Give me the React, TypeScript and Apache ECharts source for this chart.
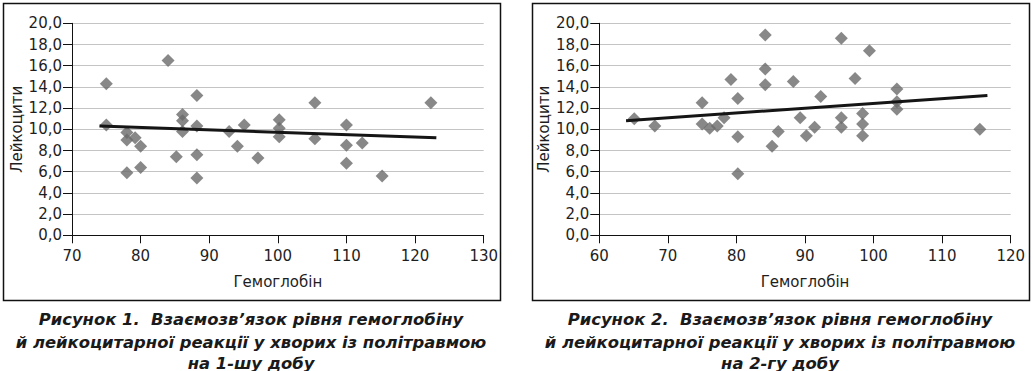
import React, { useEffect, useRef } from "react";
import * as echarts from "echarts";

// Chart 1 (day 1)
const hb1 = [75, 75, 84, 88.2, 88.2, 88.2, 88.2, 86.1, 86.1, 86.1, 78, 78, 78, 79.2, 80, 80, 85.2, 92.9, 95.1, 94.1, 97.1, 100.2, 100.2, 100.2, 105.4, 105.4, 110, 110, 110, 112.3, 115.2, 122.3];
const leu1 = [14.3, 10.4, 16.5, 13.2, 10.3, 7.6, 5.4, 11.4, 10.8, 9.8, 9.7, 9.0, 5.9, 9.2, 8.4, 6.4, 7.4, 9.8, 10.4, 8.4, 7.3, 10.9, 10.1, 9.3, 12.5, 9.1, 10.4, 8.5, 6.8, 8.7, 5.6, 12.5];
const trend1 = [[74, 10.3], [123.1, 9.2]];

// Chart 2 (day 2)
const hb2 = [65.1, 68.1, 75, 75, 76.1, 77.2, 78.2, 79.2, 80.2, 80.2, 80.2, 84.2, 84.2, 84.2, 85.2, 86.1, 88.3, 89.3, 90.2, 91.4, 92.3, 95.3, 95.3, 95.3, 97.3, 99.4, 98.4, 98.4, 98.4, 103.4, 103.4, 103.4, 115.5];
const leu2 = [11.0, 10.3, 12.5, 10.5, 10.1, 10.3, 11.1, 14.7, 12.9, 9.3, 5.8, 18.9, 15.7, 14.2, 8.4, 9.8, 14.5, 11.1, 9.4, 10.2, 13.1, 18.6, 11.1, 10.2, 14.8, 17.4, 11.5, 10.5, 9.4, 13.8, 12.6, 11.9, 10.0];
const trend2 = [[63.9, 10.8], [116.6, 13.2]];

const xRange1 = [70, 130];
const xRange2 = [60, 120];
const xName = "Гемоглобін";
const yName = "Лейкоцити";

const caption1 = [
  "Рисунок 1.  Взаємозв’язок рівня гемоглобіну",
  "й лейкоцитарної реакції у хворих із політравмою",
  "на 1-шу добу",
];
const caption2 = [
  "Рисунок 2.  Взаємозв’язок рівня гемоглобіну",
  "й лейкоцитарної реакції у хворих із політравмою",
  "на 2-гу добу",
];

const FONT = "'DejaVu Sans', 'Liberation Sans', Arial, sans-serif";
const TXT = "#1e1e1e";

function xAxisFor(gridIndex: number, range: number[]) {
  return {
    type: "value",
    gridIndex,
    min: range[0],
    max: range[1],
    interval: 10,
    name: xName,
    nameLocation: "middle",
    nameGap: 39,
    nameTextStyle: { fontFamily: FONT, fontSize: 15, color: TXT },
    axisLine: { show: true, lineStyle: { color: "#111", width: 1 } },
    axisTick: { show: true, length: 8, lineStyle: { color: "#111" } },
    axisLabel: { fontFamily: FONT, fontSize: 15, color: TXT, margin: 13 },
    splitLine: { show: false },
  };
}

function yAxisFor(gridIndex: number) {
  return {
    type: "value",
    gridIndex,
    min: 0,
    max: 20,
    interval: 2,
    name: yName,
    nameLocation: "middle",
    nameRotate: 90,
    nameGap: 48,
    nameTextStyle: { fontFamily: FONT, fontSize: 15, color: TXT },
    axisLine: { show: true, lineStyle: { color: "#111", width: 1 } },
    axisTick: { show: true, length: 9, lineStyle: { color: "#111" } },
    axisLabel: {
      fontFamily: FONT,
      fontSize: 15,
      color: TXT,
      margin: 10,
      formatter: (v: number) => v.toFixed(1).replace(".", ","),
    },
    splitLine: { show: true, lineStyle: { color: "#c4c4c4", width: 1 } },
  };
}

function captionTexts(lines: string[], cx: number) {
  const ys = [319, 342, 363];
  return lines.map((t, i) => ({
    type: "text",
    x: cx,
    y: ys[i],
    style: {
      text: t,
      fill: "#1a1a1a",
      font: `italic bold 16.4px ${FONT}`,
      lineHeight: 16,
      align: "center",
      verticalAlign: "middle",
    },
  }));
}

export default function App() {
  const ref = useRef<HTMLDivElement>(null);
  useEffect(() => {
    document.body.style.margin = "0";
    const chart = echarts.init(ref.current!, null, { renderer: "svg" });
    const scatterStyle = { color: "#6a6a6a" };
    chart.setOption({
      animation: false,
      backgroundColor: "#ffffff",
      grid: [
        { left: 72, top: 23.3, width: 411.7, height: 212 },
        { left: 599.3, top: 23.3, width: 411.4, height: 212 },
      ],
      xAxis: [xAxisFor(0, xRange1), xAxisFor(1, xRange2)],
      yAxis: [yAxisFor(0), yAxisFor(1)],
      series: [
        {
          type: "scatter",
          xAxisIndex: 0,
          yAxisIndex: 0,
          symbol: "diamond",
          symbolSize: 13,
          itemStyle: scatterStyle,
          data: hb1.map((x, i) => [x, leu1[i]]),
        },
        {
          type: "line",
          xAxisIndex: 0,
          yAxisIndex: 0,
          showSymbol: false,
          symbol: "none",
          lineStyle: { color: "#151515", width: 3 },
          data: trend1,
          z: 3,
        },
        {
          type: "scatter",
          xAxisIndex: 1,
          yAxisIndex: 1,
          symbol: "diamond",
          symbolSize: 13,
          itemStyle: scatterStyle,
          data: hb2.map((x, i) => [x, leu2[i]]),
        },
        {
          type: "line",
          xAxisIndex: 1,
          yAxisIndex: 1,
          showSymbol: false,
          symbol: "none",
          lineStyle: { color: "#151515", width: 3 },
          data: trend2,
          z: 3,
        },
      ],
      graphic: [
        {
          type: "rect",
          shape: { x: 3.5, y: 3.5, width: 497, height: 297 },
          style: { fill: "none", stroke: "#111", lineWidth: 1.5 },
          silent: true,
        },
        {
          type: "rect",
          shape: { x: 532.5, y: 3.5, width: 497, height: 297 },
          style: { fill: "none", stroke: "#111", lineWidth: 1.5 },
          silent: true,
        },
        ...captionTexts(caption1, 251),
        ...captionTexts(caption2, 780),
      ],
    });
    return () => chart.dispose();
  }, []);
  return <div ref={ref} style={{ width: 1033, height: 371 }} />;
}
